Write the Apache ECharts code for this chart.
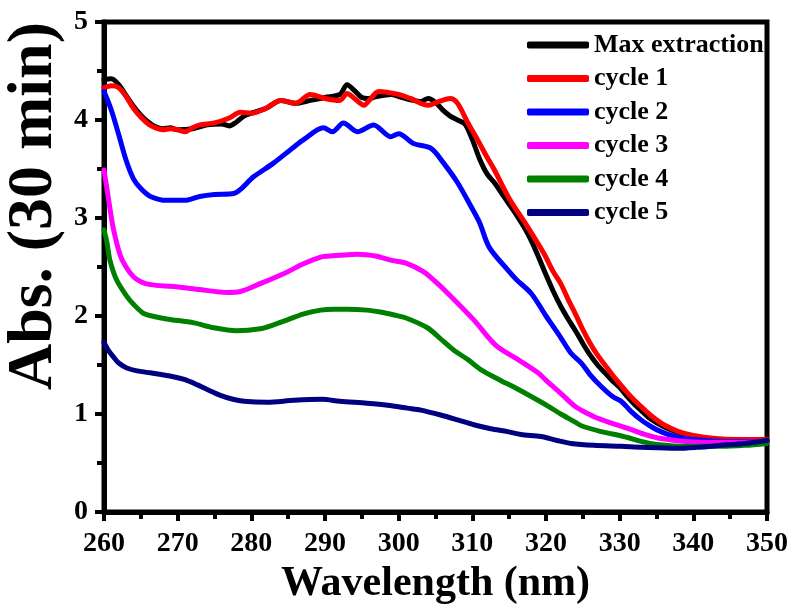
<!DOCTYPE html>
<html>
<head>
<meta charset="utf-8">
<script src="https://cdn.jsdelivr.net/npm/echarts@6/dist/echarts.min.js"></script>
<style>
html,body{margin:0;padding:0;background:#fff;}
#chart{width:795px;height:611px;}
</style>
</head>
<body>
<div id="chart"></div>
<script>
// Series names
const seriesNames = ['Max extraction', 'cycle 1', 'cycle 2', 'cycle 3', 'cycle 4', 'cycle 5'];
const seriesColors = ['#000000', '#ff0000', '#0000ff', '#ff00ff', '#008000', '#000080'];

// [wavelength (nm), absorbance]
const maxExtraction = [[260,4.41],[261,4.42],[262,4.36],[263,4.25],[264,4.14],[265,4.05],[266,3.98],[267,3.93],[268,3.91],[269,3.92],[270,3.90],[272,3.91],[274,3.95],[276,3.96],[277,3.94],[278,3.98],[279,4.04],[280,4.07],[282,4.12],[284,4.20],[286,4.17],[288,4.20],[290,4.23],[292,4.26],[293,4.36],[294,4.30],[295,4.23],[296,4.22],[297,4.24],[299,4.26],[300,4.24],[302,4.20],[303,4.19],[304,4.22],[305,4.18],[306,4.10],[307,4.04],[308,4.00],[309,3.96],[310,3.80],[311,3.60],[312,3.45],[313,3.36],[314,3.25],[315,3.14],[316,3.03],[317,2.91],[318,2.77],[319,2.60],[320,2.42],[321,2.25],[322,2.10],[323,1.97],[324,1.85],[325,1.72],[326,1.60],[327,1.50],[328,1.42],[329,1.34],[330,1.27],[331,1.18],[332,1.10],[333,1.03],[334,0.96],[336,0.87],[338,0.81],[340,0.77],[342,0.75],[345,0.73],[350,0.73]];
const cycle1 = [[260,4.33],[261,4.35],[262,4.33],[263,4.24],[264,4.12],[265,4.03],[266,3.96],[267,3.92],[268,3.90],[269,3.91],[270,3.90],[271,3.88],[272,3.92],[273,3.95],[275,3.97],[277,4.02],[278.5,4.08],[280,4.07],[282,4.12],[284,4.20],[286,4.17],[288,4.26],[290,4.22],[292,4.20],[293,4.27],[294,4.22],[295.3,4.15],[296,4.20],[297.3,4.29],[300,4.26],[301.6,4.22],[304,4.15],[305.5,4.19],[307,4.22],[308,4.17],[309.4,3.97],[310.7,3.80],[312,3.62],[313,3.49],[315,3.20],[317.5,2.91],[319.7,2.64],[321,2.45],[322,2.33],[323,2.17],[324,2.02],[325,1.86],[326,1.72],[327,1.60],[328,1.50],[329,1.40],[330,1.31],[331,1.22],[332,1.14],[333,1.07],[334,1.00],[335,0.94],[336,0.89],[338,0.82],[340,0.78],[343,0.75],[346,0.74],[350,0.74]];
const cycle2 = [[260,4.29],[261,4.10],[262,3.85],[263,3.59],[264,3.40],[265,3.30],[266.3,3.22],[268.5,3.18],[271,3.18],[273,3.22],[275,3.24],[277.6,3.25],[280.3,3.42],[283,3.56],[285.7,3.72],[287.1,3.80],[289.8,3.92],[291,3.88],[292.5,3.97],[294.4,3.88],[296.6,3.95],[298.9,3.83],[300,3.86],[302,3.76],[304.4,3.71],[306.1,3.56],[308,3.36],[309.8,3.12],[311,2.95],[312.3,2.70],[314.8,2.47],[316,2.37],[318,2.23],[320,2.00],[321,1.89],[322,1.78],[323.4,1.62],[324.8,1.52],[326,1.40],[327.5,1.28],[329,1.18],[330.2,1.13],[331.5,1.03],[332.9,0.94],[334.3,0.87],[335.6,0.82],[338,0.76],[340,0.74],[344,0.72],[350,0.72]];
const cycle3 = [[260,3.49],[260.4,3.30],[260.8,3.10],[261.3,2.88],[262.2,2.62],[263,2.50],[264,2.40],[265,2.35],[266.3,2.32],[269.4,2.30],[273,2.27],[276.7,2.24],[278.5,2.25],[281.2,2.33],[284.9,2.45],[287,2.53],[289.4,2.60],[290.3,2.61],[292,2.62],[294.4,2.63],[297,2.61],[298.9,2.57],[301,2.54],[303.4,2.45],[305,2.35],[307.1,2.20],[310.2,1.96],[313.2,1.70],[316.3,1.55],[318.9,1.42],[320.2,1.33],[322,1.21],[323.9,1.08],[325,1.03],[326.6,0.97],[328.8,0.91],[331.6,0.84],[333.5,0.79],[335.6,0.75],[339,0.72],[344,0.71],[350,0.72]];
const cycle4 = [[260,2.88],[260.4,2.75],[260.8,2.57],[261.7,2.37],[263.1,2.20],[264,2.12],[265.3,2.03],[266.5,2.00],[268.5,1.97],[272.2,1.93],[274.9,1.88],[278,1.85],[281.2,1.87],[283,1.91],[284.9,1.96],[287,2.02],[289.4,2.06],[291.2,2.07],[293,2.07],[295.7,2.06],[297.5,2.04],[299.4,2.01],[301,1.98],[303.9,1.88],[305.5,1.78],[307.5,1.65],[309.5,1.55],[311.2,1.45],[313.9,1.34],[315.5,1.28],[318.9,1.14],[320.5,1.07],[322,1.00],[323.9,0.92],[324.8,0.88],[327.5,0.82],[328.8,0.80],[331.1,0.76],[332.9,0.72],[335,0.69],[339.3,0.67],[343.8,0.67],[347,0.68],[350,0.70]];
const cycle5 = [[260,1.73],[260.5,1.66],[261.3,1.58],[262,1.52],[263.1,1.47],[264.5,1.44],[266.3,1.42],[269.4,1.38],[271,1.35],[272.6,1.30],[274,1.25],[275.8,1.19],[277.5,1.15],[279,1.13],[282.1,1.12],[285.8,1.14],[289.6,1.15],[292,1.13],[295.7,1.11],[298.5,1.09],[301.2,1.06],[303,1.04],[305.7,0.99],[308,0.94],[310.2,0.89],[312.5,0.85],[314.8,0.82],[316.6,0.79],[319.3,0.77],[321.5,0.73],[323.4,0.70],[326.5,0.68],[330.2,0.67],[333,0.66],[337.8,0.65],[340.5,0.66],[343.8,0.68],[347,0.70],[350,0.73]];

const allData = [maxExtraction, cycle1, cycle2, cycle3, cycle4, cycle5];

const xTitle = 'Wavelength (nm)';
const yTitle = 'Abs. (30 min)';

const FONT = 'Liberation Serif, Times New Roman, serif';

const chart = echarts.init(document.getElementById('chart'), null, {renderer: 'canvas'});

const axisCommon = {
  axisLine: {show: true, onZero: false, lineStyle: {color: '#000', width: 5}},
  axisTick: {show: true, inside: false, length: 9, lineStyle: {color: '#000', width: 4}},
  minorTick: {show: true, splitNumber: 2, length: 7, lineStyle: {color: '#000', width: 4}},
  splitLine: {show: false},
  axisLabel: {color: '#000', fontFamily: FONT, fontWeight: 'bold', fontSize: 28}
};

chart.setOption({
  animation: false,
  backgroundColor: '#fff',
  grid: {left: 104, right: 28, top: 22, bottom: 99, show: true, borderColor: '#000', borderWidth: 5, containLabel: false},
  legend: {
    left: 527, top: 32, orient: 'vertical', padding: 0,
    itemWidth: 62, itemHeight: 7, itemGap: 7.5, icon: 'roundRect',
    data: seriesNames,
    textStyle: {color: '#000', fontFamily: FONT, fontWeight: 'bold', fontSize: 26, lineHeight: 26, padding: [0,0,0,0]}
  },
  xAxis: Object.assign({}, axisCommon, {
    type: 'value', min: 260, max: 350, interval: 10,
    name: xTitle, nameLocation: 'middle', nameGap: 48,
    nameTextStyle: {color: '#000', fontFamily: FONT, fontWeight: 'bold', fontSize: 42},
    axisLabel: Object.assign({}, axisCommon.axisLabel, {margin: 18})
  }),
  yAxis: Object.assign({}, axisCommon, {
    type: 'value', min: 0, max: 5, interval: 1,
    axisLabel: Object.assign({}, axisCommon.axisLabel, {margin: 16})
  }),
  graphic: [{
    type: 'text', x: 34, y: 206, rotation: Math.PI / 2,
    style: {text: yTitle, fill: '#000', font: 'bold 64px ' + FONT, align: 'center', verticalAlign: 'middle'}
  }],
  series: allData.map((d, i) => ({
    name: seriesNames[i], type: 'line', data: d, showSymbol: false, symbol: 'none',
    smooth: 0.3, clip: true,
    lineStyle: {color: seriesColors[i], width: 5, cap: 'round', join: 'round'},
    itemStyle: {color: seriesColors[i]}
  }))
});
</script>
</body>
</html>
